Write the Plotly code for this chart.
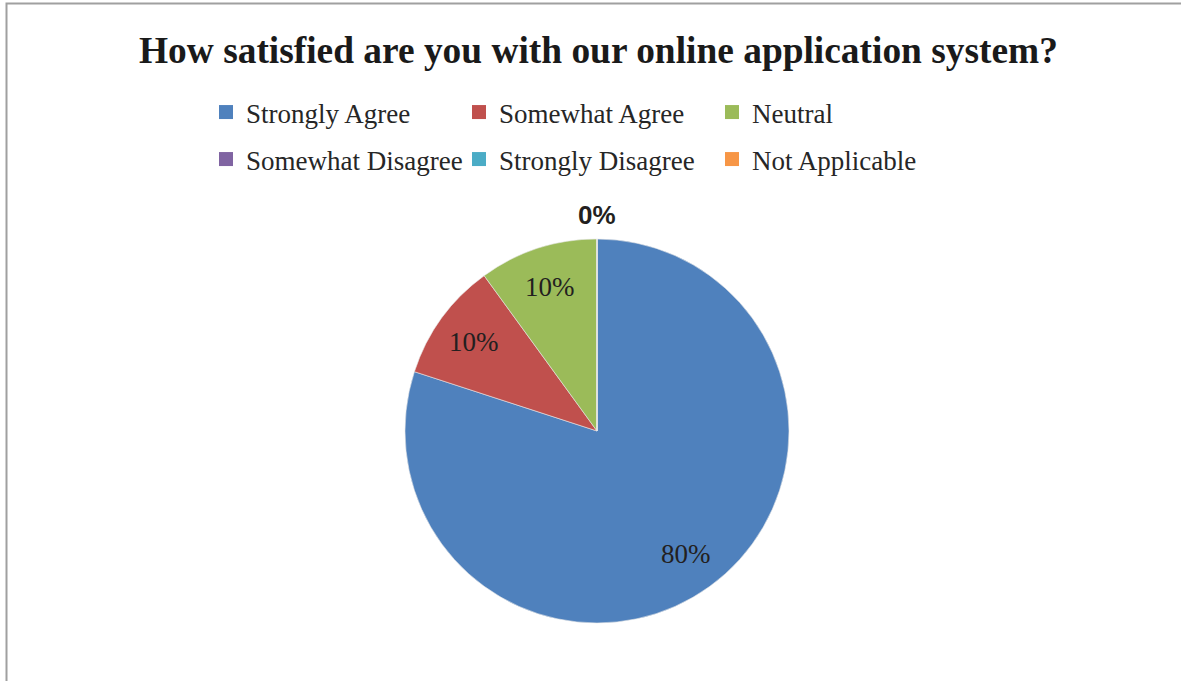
import math
import plotly.graph_objects as go

# Survey responses
categories = ["Strongly Agree", "Somewhat Agree", "Neutral",
              "Somewhat Disagree", "Strongly Disagree", "Not Applicable"]
shares = [80, 10, 10, 0, 0, 0]
colors = ["#4F81BD", "#C0504D", "#9BBB59", "#8064A2", "#4BACC6", "#F79646"]
title_text = "How satisfied are you with our online application system?"

W, H = 1181, 681

# pie placement (pixels) -> paper domain
PIE_CX, PIE_CY, PIE_R = 597, 431, 192
dom_x = [(PIE_CX - PIE_R) / W, (PIE_CX + PIE_R) / W]
dom_y = [(H - PIE_CY - PIE_R) / H, (H - PIE_CY + PIE_R) / H]

fig = go.Figure(go.Pie(
    labels=categories,
    values=shares,
    sort=False,
    direction="clockwise",
    rotation=0,
    marker=dict(colors=colors, line=dict(color="#e8e8e8", width=0.6)),
    textinfo="none",
    domain=dict(x=dom_x, y=dom_y),
    hoverinfo="label+percent",
    showlegend=False,
))

# legend keys: three per row, one legend per row
for i, (cat, col) in enumerate(zip(categories, colors)):
    fig.add_trace(go.Scatter(
        x=[None], y=[None], mode="markers", name=cat,
        marker=dict(symbol="square", size=14, color=col),
        legend="legend" if i < 3 else "legend2",
        hoverinfo="skip",
    ))

# percentage labels placed along each slice's mid angle
total = sum(shares)
annotations = []
cum = 0.0
zero_done = False
for v in shares:
    frac = v / total
    start = cum
    cum += frac
    if v > 0:
        mid = 2 * math.pi * (start + frac / 2)
        rr = 0.79 * PIE_R
        px = PIE_CX + rr * math.sin(mid)
        py = PIE_CY - rr * math.cos(mid)
        annotations.append(dict(
            text=f"{round(frac * 100)}%", x=px / W, y=1 - py / H,
            xref="paper", yref="paper", xanchor="center", yanchor="middle",
            showarrow=False,
            font=dict(family="Liberation Serif", size=27, color="#231f20"),
        ))
    elif not zero_done:
        # empty slices sit at the boundary; one shared label just outside the rim
        zero_done = True
        ang = 2 * math.pi * start
        rr = PIE_R + 24
        px = PIE_CX + rr * math.sin(ang)
        py = PIE_CY - rr * math.cos(ang)
        annotations.append(dict(
            text=f"{round(frac * 100)}%", x=px / W, y=1 - py / H,
            xref="paper", yref="paper", xanchor="center", yanchor="middle",
            showarrow=False,
            font=dict(family="Liberation Sans", size=26, color="#231f20", weight="bold"),
        ))

annotations.append(dict(
    text=title_text,
    x=598 / W, y=1 - 50 / H, xref="paper", yref="paper",
    xanchor="center", yanchor="middle", showarrow=False,
    font=dict(family="Liberation Serif", size=37.4, color="#1a1a1a", weight="bold"),
))

legend_common = dict(
    orientation="h",
    xanchor="left", yanchor="top",
    entrywidth=208, entrywidthmode="pixels",
    font=dict(family="Liberation Serif", size=27, color="#262626"),
    bgcolor="rgba(0,0,0,0)",
    traceorder="normal",
)

fig.update_layout(
    width=W, height=H,
    margin=dict(l=0, r=0, t=0, b=0),
    paper_bgcolor="white",
    plot_bgcolor="white",
    showlegend=True,
    xaxis=dict(visible=False),
    yaxis=dict(visible=False),
    legend=dict(x=206 / W, y=1 - 88 / H, **legend_common),
    legend2=dict(x=206 / W, y=1 - 135 / H, **legend_common),
    annotations=annotations,
    shapes=[dict(
        type="rect", xref="paper", yref="paper",
        x0=6.5 / W, x1=1.05, y0=-0.05, y1=1 - 3.5 / H,
        line=dict(color="#a0a0a0", width=2), fillcolor="rgba(0,0,0,0)",
        layer="below",
    )],
)

fig.write_html("out.html")
